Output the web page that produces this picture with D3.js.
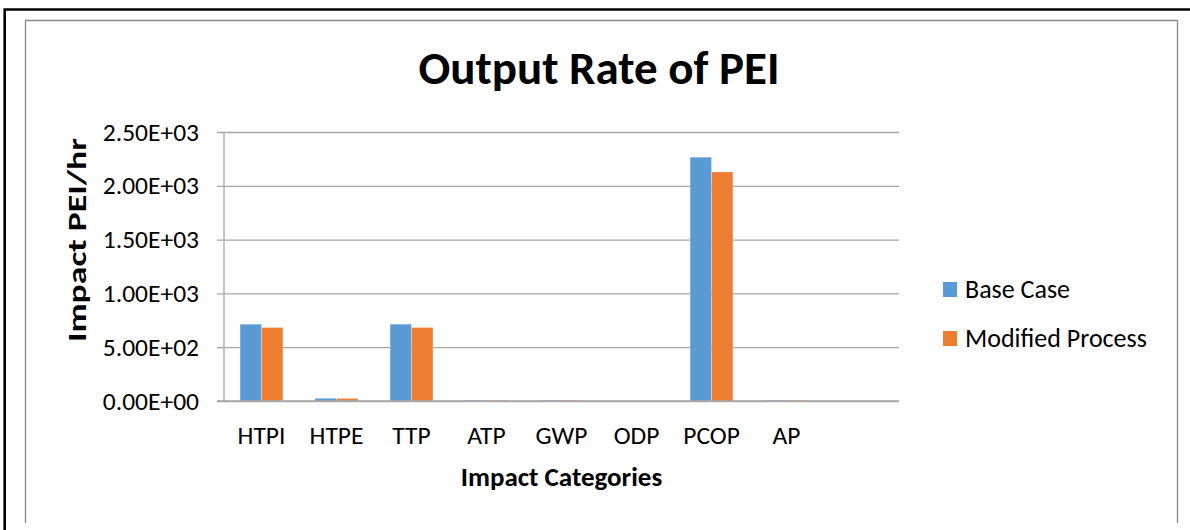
<!DOCTYPE html>
<html>
<head>
<meta charset="utf-8">
<script src="https://cdn.jsdelivr.net/npm/d3@7"></script>
<style>
  html, body { margin: 0; padding: 0; background: #fff; }
  .chart { width: 1190px; height: 530px; }
  text { font-family: Carlito, Lato, "Liberation Sans", sans-serif; fill: #000; }
</style>
</head>
<body>
<div class="chart"></div>
<script>

// categories along the x axis (last slot is left blank in the original)
const categories = ["HTPI", "HTPE", "TTP", "ATP", "GWP", "ODP", "PCOP", "AP", ""];
const seriesNames = ["Base Case", "Modified Process"];
const baseCase = [714, 25, 714, 8, 8, 0, 2266, 8, null];
const modifiedProcess = [683, 24, 683, 8, 8, 0, 2129, 8, null];
const yTicks = [0, 500, 1000, 1500, 2000, 2500];
const colors = ["#5B9BD5", "#ED7D31"];

function init() {

    let margin = { top: 132, right: 291, bottom: 129, left: 224 };

    let width = 1190 - margin.left - margin.right;
    let height = 530 - margin.top - margin.bottom;

    let svg = d3.select(".chart").append("svg")
        .attr("width", 1190)
        .attr("height", 530);

    // outer black frame and inner grey chart border
    svg.append("path")
        .attr("d", "M4.7,530 V9.5 H1195")
        .attr("fill", "none")
        .attr("stroke", "#000")
        .attr("stroke-width", 2.6);

    svg.append("path")
        .attr("d", "M25.5,523 V20.5 H1177.5 V523")
        .attr("fill", "none")
        .attr("stroke", "#888")
        .attr("stroke-width", 1.3);

    let plot = svg.append("g")
        .attr("transform", `translate(${margin.left},${margin.top})`);

    let xScale = d3.scaleBand()
        .domain(categories)
        .range([0, width])
        .padding(0);

    // bars sit in the middle of each slot, gap = 1.5 bar widths
    let xInner = d3.scaleBand()
        .domain(seriesNames)
        .range([0, xScale.bandwidth()])
        .paddingInner(0)
        .paddingOuter(0.75);

    let yScale = d3.scaleLinear()
        .domain([0, 2500])
        .range([height, 0]);

    // gridlines + y labels
    let yAxis = plot.append("g")
        .attr("class", "axis y-axis")
        .call(d3.axisLeft(yScale)
            .tickValues(yTicks)
            .tickSize(-width - 7)
            .tickFormat(d => d.toExponential(2).replace("e", "E").replace(/E([+-])(\d)$/, "E$10$2")));

    yAxis.attr("transform", "translate(-7,0)");
    yAxis.select(".domain").remove();
    yAxis.selectAll(".tick line")
        .attr("stroke", "#a6a6a6")
        .attr("stroke-width", 1.3);
    yAxis.selectAll(".tick text")
        .style("font-size", "25.5px")
        .attr("x", -18);

    // vertical axis line
    plot.append("line")
        .attr("x1", 0).attr("x2", 0)
        .attr("y1", 0).attr("y2", height)
        .attr("stroke", "#a6a6a6")
        .attr("stroke-width", 1.3);

    let series = seriesNames.map((name, i) => ({
        name: name,
        color: colors[i],
        values: (i === 0 ? baseCase : modifiedProcess)
    }));

    series.forEach(s => {
        plot.append("g")
            .selectAll("rect")
            .data(categories.map((c, j) => ({ cat: c, v: s.values[j] })).filter(d => d.v !== null))
            .enter().append("rect")
            .attr("x", d => xScale(d.cat) + xInner(s.name))
            .attr("width", xInner.bandwidth())
            .attr("y", d => yScale(d.v))
            .attr("height", d => height - yScale(d.v))
            .attr("fill", s.color)
            .attr("stroke", "#fff")
            .attr("stroke-opacity", 0.35)
            .attr("stroke-width", 0.8);
    });

    // category labels
    let xAxis = plot.append("g")
        .attr("class", "axis x-axis")
        .attr("transform", `translate(0,${height})`)
        .call(d3.axisBottom(xScale).tickSize(0).tickPadding(0));
    xAxis.select(".domain").remove();
    xAxis.selectAll(".tick text")
        .attr("dy", null)
        .attr("y", 43)
        .style("font-size", "25.5px");

    // baseline drawn over the bars
    plot.append("line")
        .attr("x1", -7).attr("x2", width)
        .attr("y1", height).attr("y2", height)
        .attr("stroke", "#a6a6a6")
        .attr("stroke-width", 1.3);

    // title
    svg.append("text")
        .attr("x", 599)
        .attr("y", 84)
        .attr("text-anchor", "middle")
        .style("font-size", "47px")
        .style("font-weight", "bold")
        .text("Output Rate of PEI");

    // axis titles
    svg.append("text")
        .attr("x", margin.left + width / 2)
        .attr("y", 486)
        .attr("text-anchor", "middle")
        .style("font-size", "27px")
        .style("font-weight", "bold")
        .text("Impact Categories");

    svg.append("text")
        .attr("transform", "translate(86,240) rotate(-90)")
        .attr("text-anchor", "middle")
        .attr("textLength", 204)
        .attr("lengthAdjust", "spacingAndGlyphs")
        .style("font-size", "27px")
        .style("font-weight", "bold")
        .text("Impact PEI/hr");

    // legend
    let legend = svg.append("g")
        .attr("transform", "translate(943,282)");

    let items = legend.selectAll("g")
        .data(series)
        .enter().append("g")
        .attr("transform", (d, i) => `translate(0,${i * 49})`);

    items.append("rect")
        .attr("width", 14)
        .attr("height", 15)
        .attr("fill", d => d.color);

    items.append("text")
        .attr("x", 22)
        .attr("y", 15.5)
        .style("font-size", "26px")
        .text(d => d.name);
}

init();

</script>
</body>
</html>
